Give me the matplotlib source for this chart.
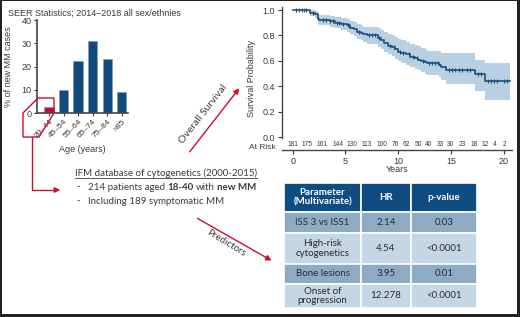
import numpy as np
import matplotlib.pyplot as plt
from matplotlib.patches import Polygon, Rectangle, FancyArrowPatch

plt.rcParams['font.family'] = ['Liberation Sans', 'DejaVu Sans']

RED = '#c8102e'
NAVY = '#134a7c'
GREY = '#3a3a3a'

# ---- SEER bar data ----
age_groups = ['20–44', '45–54', '55–64', '65–74', '75–84', '>85']
pct_cases = [2.8, 10.2, 22.4, 31.0, 23.3, 9.3]

# ---- Kaplan-Meier ----
km_t = [0, 1.65, 2.1, 2.35, 2.5, 3.5, 4.0, 4.6, 5.1, 5.4, 5.8, 6.1, 6.5, 6.7, 7.0,
        8.1, 8.4, 8.7, 9.0, 9.4, 9.7, 10.0, 10.3, 10.7, 11.1, 11.6, 11.9, 12.2,
        12.5, 12.7, 13.9, 14.1, 14.5, 17.3, 18.2, 20.6]
km_s = [1.0, 0.98, 0.97, 0.93, 0.92, 0.91, 0.90, 0.89, 0.88, 0.86, 0.85, 0.83,
        0.82, 0.81, 0.80, 0.78, 0.76, 0.74, 0.72, 0.71, 0.69, 0.67, 0.66, 0.65,
        0.63, 0.62, 0.61, 0.60, 0.59, 0.58, 0.57, 0.55, 0.53, 0.50, 0.44, 0.44]
ci_hi = [1.0, 1.0, 0.995, 0.97, 0.96, 0.955, 0.945, 0.935, 0.93, 0.915, 0.905,
         0.89, 0.88, 0.87, 0.865, 0.855, 0.84, 0.825, 0.81, 0.80, 0.79, 0.77,
         0.76, 0.75, 0.735, 0.725, 0.715, 0.70, 0.69, 0.68, 0.675, 0.665, 0.66,
         0.61, 0.58, 0.58]
ci_lo = [1.0, 0.95, 0.94, 0.89, 0.88, 0.865, 0.855, 0.84, 0.83, 0.81, 0.795,
         0.775, 0.76, 0.75, 0.735, 0.71, 0.69, 0.67, 0.65, 0.635, 0.615, 0.595,
         0.58, 0.57, 0.55, 0.535, 0.525, 0.51, 0.50, 0.49, 0.475, 0.45, 0.42,
         0.36, 0.29, 0.29]
censor_t = [0.3, 0.6, 0.9, 1.1, 1.3, 1.9, 2.9, 3.2, 3.5, 3.8, 4.2, 4.4, 4.8, 5.2,
            6.3, 7.2, 7.5, 7.8, 8.2, 9.2, 9.6, 10.2, 10.5, 11.0, 11.4, 11.8, 12.4,
            12.9, 13.2, 13.5, 13.8, 14.8, 15.1, 15.4, 15.8, 16.1, 16.5, 16.8, 17.6,
            17.9, 18.5, 18.8, 19.1, 19.4, 20.0, 20.3]
risk_t = [0.06, 1.33, 2.78, 4.27, 5.66, 7.03, 8.45, 9.75, 10.8, 11.9, 12.9, 14.0,
          15.0, 16.1, 17.2, 18.3, 19.2, 20.1]
risk_n = [181, 175, 161, 144, 130, 113, 100, 76, 62, 50, 40, 33, 30, 23, 18, 12, 4, 2]

# ---- predictors table ----
tbl_header = ['Parameter\n(Multivariate)', 'HR', 'p-value']
tbl_param = ['ISS 3 vs ISS1', 'High-risk\ncytogenetics', 'Bone lesions', 'Onset of\nprogression']
tbl_hr = ['2.14', '4.54', '3.95', '12.278']
tbl_p = ['0.03', '<0.0001', '0.01', '<0.0001']

W, H = 520, 317
fig = plt.figure(figsize=(W / 100, H / 100), dpi=100)


def fbox(x0, y0, x1, y1):
    return [x0 / W, 1 - y1 / H, (x1 - x0) / W, (y1 - y0) / H]


# ---- bar chart ----
ax1 = fig.add_axes(fbox(37, 20, 128.3, 113.3))
xs = np.arange(len(age_groups))
cols = [RED] + [NAVY] * (len(age_groups) - 1)
ax1.bar(xs, pct_cases, width=0.64, color=cols, edgecolor='#7f9fc0', linewidth=0.6)
ax1.set_xlim(-0.83, 5.45)
ax1.set_ylim(0, 40)
ax1.set_yticks([0, 10, 20, 30, 40])
ax1.set_xticks(xs)
ax1.set_xticklabels(age_groups, rotation=45, ha='right', rotation_mode='anchor')
ax1.tick_params(axis='y', labelsize=6.5, colors=GREY, length=2.5, width=0.8, pad=1.5)
ax1.tick_params(axis='x', labelsize=6, colors=GREY, length=2, width=0.8, pad=1.5)
for s in ['top', 'right']:
    ax1.spines[s].set_visible(False)
for s in ['left', 'bottom']:
    ax1.spines[s].set_linewidth(1.2)
    ax1.spines[s].set_color('#444444')
ax1.set_ylabel('% of new MM cases', fontsize=6.5, color=GREY, labelpad=3)
ax1.yaxis.set_label_coords(-0.26, 0.5)
ax1.set_xlabel('Age (years)', fontsize=6.5, color=GREY)
ax1.xaxis.set_label_coords(0.5, -0.345)

# ---- survival curve ----
ax2 = fig.add_axes(fbox(282, 6.7, 512, 150))
ax2.fill_between(km_t, ci_lo, ci_hi, step='post', color='#b9d0e3', lw=0)
ax2.step(km_t, km_s, where='post', color='#1f4e79', lw=1.2)
cidx = np.searchsorted(km_t, censor_t, side='right') - 1
ax2.plot(censor_t, np.array(km_s)[cidx], ls='none', marker='|', ms=3,
         mew=0.8, color='#1f4e79')
ax2.set_xlim(-1.02, 20.8)
ax2.set_ylim(-0.102, 1.026)
ax2.set_yticks([0, 0.2, 0.4, 0.6, 0.8, 1.0])
ax2.set_yticklabels(['0.0', '0.2', '0.4', '0.6', '0.8', '1.0'])
ax2.set_xticks([0, 5, 10, 15, 20])
ax2.tick_params(labelsize=6.5, colors=GREY, length=3, width=0.8, pad=2)
for s in ['top', 'right']:
    ax2.spines[s].set_visible(False)
for s in ['left', 'bottom']:
    ax2.spines[s].set_linewidth(1.0)
    ax2.spines[s].set_color('#444444')
ax2.spines['left'].set_bounds(-0.01, 1.026)
ax2.set_ylabel('Survival Probability', fontsize=6.5, color=GREY)
ax2.yaxis.set_label_coords(-0.112, 0.5)
ax2.set_xlabel('Years', fontsize=6.5, color=GREY)
ax2.xaxis.set_label_coords(0.5, -0.105)
for t, n in zip(risk_t, risk_n):
    ax2.text(t, -0.055, str(n), ha='center', va='center', fontsize=4.8, color=GREY)
ax2.text(-2.9, -0.079, 'At Risk', ha='center', va='center', fontsize=6, color=GREY,
         clip_on=False)

# ---- overlay: arrows, text, table, frame ----
ov = fig.add_axes([0, 0, 1, 1])
ov.set_xlim(0, W)
ov.set_ylim(H, 0)
ov.axis('off')
ov.patch.set_alpha(0)

ov.text(8, 13, 'SEER Statistics; 2014–2018 all sex/ethnies', fontsize=6.5,
        color=GREY, va='center')

ov.add_patch(Polygon([(38, 98), (54, 98), (54, 113), (39, 137), (23, 137), (23, 113)],
                     closed=True, fill=False, ec=RED, lw=1))
ov.plot([32, 32, 55], [137, 190, 190], color=RED, lw=1)
ov.add_patch(FancyArrowPatch((54, 190), (63, 190), arrowstyle='-|>',
                             mutation_scale=8, color=RED, lw=1))

txtfam = ['Lato', 'DejaVu Sans']

ov.add_patch(FancyArrowPatch((188, 154), (241, 86), arrowstyle='-|>',
                             mutation_scale=8, color=RED, lw=1))
ov.text(203, 114, 'Overall Survival', rotation=52, ha='center', va='center',
        fontsize=7.5, color=GREY, family=txtfam)

ov.add_patch(FancyArrowPatch((195, 217), (274, 262), arrowstyle='-|>',
                             mutation_scale=8, color=RED, lw=1))
ov.text(226, 243, 'Predictors', rotation=-31, ha='center', va='center',
        fontsize=7, color=GREY, family=txtfam)

renderer = fig.canvas.get_renderer()
inv = ov.transData.inverted()

hdr = ov.text(75, 173, 'IFM database of cytogenetics (2000-2015)', fontsize=7,
              color=GREY, va='center', family=txtfam)
bb = hdr.get_window_extent(renderer)
x0d = inv.transform((bb.x0, bb.y0))
x1d = inv.transform((bb.x1, bb.y0))
ov.plot([x0d[0], x1d[0]], [x0d[1] + 0.5, x1d[1] + 0.5], color=GREY, lw=0.6)

ov.text(76, 187, '-', fontsize=7, color=GREY, va='center', family=txtfam)
ov.text(76, 201, '-', fontsize=7, color=GREY, va='center', family=txtfam)
parts = [('214 patients aged', 'normal'), ('18-40', 'bold'), ('with', 'normal'),
         ('new MM', 'bold')]
x = 88
for s, wgt in parts:
    t = ov.text(x, 187, s, fontsize=7, color=GREY, va='center', weight=wgt,
                family=txtfam)
    b = t.get_window_extent(renderer)
    x = inv.transform((b.x1, b.y0))[0] + 2.2
ov.text(88, 201, 'Including 189 symptomatic MM', fontsize=7, color=GREY,
        va='center', family=txtfam)

# table
col_x = [284, 361, 411, 477]
row_y = [183, 212, 233, 264, 284, 308]
row_col = ['#0f4c81', '#8dabc5', '#c5d7e6', '#8dabc5', '#c5d7e6']
rows = [tbl_header] + [[a, b, c] for a, b, c in zip(tbl_param, tbl_hr, tbl_p)]
for r, cells in enumerate(rows):
    for c, s in enumerate(cells):
        ov.add_patch(Rectangle((col_x[c], row_y[r]), col_x[c + 1] - col_x[c],
                               row_y[r + 1] - row_y[r], fc=row_col[r],
                               ec='white', lw=1.2))
        ov.text((col_x[c] + col_x[c + 1]) / 2, (row_y[r] + row_y[r + 1]) / 2, s,
                ha='center', va='center', fontsize=7, linespacing=1.1,
                color='white' if r == 0 else '#2b2b2b',
                weight='bold' if r == 0 else 'normal', family=txtfam)

# frame (thin top, heavier right/bottom)
for (fx, fy, fw, fh) in [(0, 0, W, 1), (0, 0, 2, H), (517, 0, 3, H), (0, 314, W, 3)]:
    ov.add_patch(Rectangle((fx, fy), fw, fh, fc='#222222', lw=0, clip_on=False))

fig.savefig('out.png', dpi=100)
